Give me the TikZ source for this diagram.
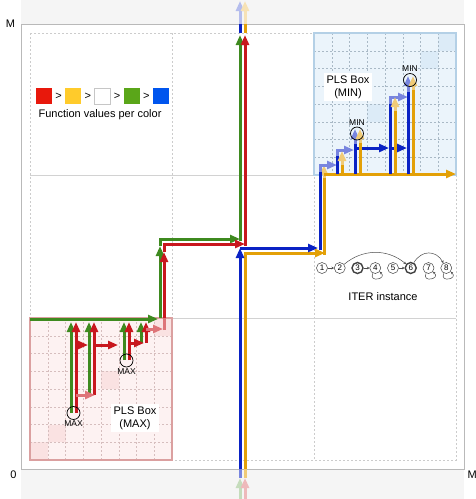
\documentclass[tikz,border=0pt]{standalone}
\usepackage{fontspec}
\setmainfont{Liberation Sans}
\usetikzlibrary{arrows.meta,positioning}

\definecolor{cred}{HTML}{C8171E}
\definecolor{cgreen}{HTML}{3E8A1F}
\definecolor{cblue}{HTML}{0A22C4}
\definecolor{corange}{HTML}{E3A007}
\definecolor{kred}{HTML}{E8180C}
\definecolor{kyellow}{HTML}{FFCB2B}
\definecolor{kgreen}{HTML}{5AA619}
\definecolor{kblue}{HTML}{0055EE}
\definecolor{bandgray}{HTML}{F5F5F5}
\definecolor{maxfill}{HTML}{FDF2F2}
\definecolor{maxcell}{HTML}{FAE2E2}
\definecolor{maxgrid}{HTML}{D6BEBE}
\definecolor{maxedge}{HTML}{DBA0A0}
\definecolor{minfill}{HTML}{EBF4FB}
\definecolor{mincell}{HTML}{DCEBF7}
\definecolor{mingrid}{HTML}{A9B9C6}
\definecolor{minedge}{HTML}{B4D0E6}

\begin{document}
\begin{tikzpicture}[x=1pt, y=1pt,
  flow/.style={line width=3pt, draw=#1, -{Triangle[length=10pt,width=8pt]}},
  seg/.style={line width=3pt, draw=#1},
  lbl/.style={font=\fontsize{11}{13}\selectfont, align=center},
  tiny/.style={font=\fontsize{8.5}{9}\selectfont, inner sep=1pt},
  pick/.style={draw=black, circle, minimum size=13pt, inner sep=0pt, line width=0.7pt},
  inode/.style={circle, draw=black!75, minimum size=11pt, inner sep=0pt,
                font=\fontsize{8}{8}\selectfont},
  iedge/.style={draw=black!70, line width=0.5pt, -{Stealth[length=2.5pt,width=2.5pt]}},
  key/.style={minimum size=16pt, inner sep=0pt},
  cellgrid/.style={dash pattern=on 2pt off 2pt, line width=0.5pt, draw=#1}]

\useasboundingbox (0,0) rectangle (476,-499);

% frame and bands
\fill[bandgray] (21,0) rectangle (464,-24);
\fill[bandgray] (21,-469) rectangle (464,-499);
\draw[gray!55, line width=0.8pt] (21,-24) rectangle (464,-469);
\draw[cellgrid=gray!40] (30,-33) rectangle (456,-460);
\draw[cellgrid=gray!40] (172,-33) -- (172,-460);
\draw[cellgrid=gray!40] (314,-33) -- (314,-460);
\draw[gray!35, line width=1pt] (30,-175) -- (456,-175);
\draw[gray!35, line width=1pt] (30,-318) -- (456,-318);

% PLS box (MAX)
\fill[maxfill] (30,-318) rectangle (172,-460);
\foreach \c/\r in {0/7,1/6,4/3,7/0}
  \fill[maxcell] ({30+17.75*\c},{-318-17.75*\r}) rectangle ++(17.75,-17.75);
\foreach \i in {1,...,7} {
  \draw[cellgrid=maxgrid] ({30+17.75*\i},-318) -- ++(0,-142);
  \draw[cellgrid=maxgrid] (30,{-318-17.75*\i}) -- ++(142,0);
}
\draw[maxedge, line width=1.2pt] (30,-318) rectangle (172,-460);

% PLS box (MIN)
\fill[minfill] (314,-33) rectangle (456,-175);
\foreach \c/\r in {7/0,6/1,3/4}
  \fill[mincell] ({314+17.75*\c},{-33-17.75*\r}) rectangle ++(17.75,-17.75);
\foreach \i in {1,...,7} {
  \draw[cellgrid=mingrid] ({314+17.75*\i},-33) -- ++(0,-142);
  \draw[cellgrid=mingrid] (314,{-33-17.75*\i}) -- ++(142,0);
}
\draw[minedge, line width=1.2pt] (314,-33) rectangle (456,-175);

% legend
\begin{scope}[node distance=3pt]
\node[key, fill=kred] (k1) at (44,-96) {};
\node[lbl, inner sep=0pt, right=of k1] (g1) {>};
\node[key, fill=kyellow, right=of g1] (k2) {};
\node[lbl, inner sep=0pt, right=of k2] (g2) {>};
\node[key, fill=white, draw=gray!45, right=of g2] (k3) {};
\node[lbl, inner sep=0pt, right=of k3] (g3) {>};
\node[key, fill=kgreen, right=of g3] (k4) {};
\node[lbl, inner sep=0pt, right=of k4] (g4) {>};
\node[key, fill=kblue, right=of g4] (k5) {};
\end{scope}
\node[lbl] (keytxt) at (100,-115) {Function values per color};

% steps inside the MAX box
\draw[flow=cgreen] (30,-319) -- (158,-319);
\foreach \x/\y in {71/413,89/395,124/360,141/343}
  \draw[flow=cgreen] (\x,-\y) -- (\x,-322);
\foreach \x/\y in {76/413,94/395,129/360,146/343}
  \draw[flow=cred] (\x,-\y) -- (\x,-322);
\draw[flow=cred!60] (76,-395) -- (95,-395);
\draw[flow=cred] (76,-345) -- (88,-345);
\draw[flow=cred] (94,-345) -- (118,-345);
\draw[flow=cred] (129,-343) -- (144,-343);
\draw[flow=cred!60] (146,-329) -- (163,-329);

% green and red through the middle
\draw[flow=cgreen] (160,-318) -- (160,-246);
\draw[flow=cgreen] (160,-246) |- (240,-239);
\draw[flow=cgreen] (240,-240.5) -- (240,-35);
\draw[seg=cred!60] (164,-330) -- (164,-318);
\draw[flow=cred] (164,-318) -- (164,-252);
\draw[flow=cred] (164,-252) |- (245,-244);
\draw[flow=cred] (245,-245.5) -- (245,-35);

% blue and orange through the middle
\draw[seg=corange!55] (245,-478) -- (245,-469);
\draw[flow=corange] (245,-469) |- (325,-253);
\draw[seg=corange] (324,-254.5) -- (324,-176);
\draw[flow=corange!55] (324,-178) -- (324,-165);
\draw[seg=cblue!55] (240,-478) -- (240,-469);
\draw[flow=cblue] (240,-469) -- (240,-248);
\draw[flow=cblue] (240,-248) -- (318,-248);
\draw[seg=cblue] (320,-249.5) -- (320,-172);

% steps inside the MIN box
\draw[flow=corange] (324,-174) -- (456,-174);
\draw[flow=cblue!55] (320,-172) |- (337,-165);
\draw[seg=cblue] (337,-174) -- (337,-156);
\draw[flow=cblue!55] (337,-156) |- (354,-150);
\draw[flow=cblue] (355,-148) -- (389,-148);
\draw[flow=cblue] (390,-148) -- (407,-148);
\draw[seg=cblue] (355,-174) -- (355,-142);
\draw[flow=cblue!55] (355,-144) -- (355,-129);
\draw[seg=cblue] (390,-174) -- (390,-104);
\draw[flow=cblue!55] (390,-104) |- (408,-97);
\draw[seg=cblue] (408,-174) -- (408,-90);
\draw[flow=cblue!55] (408,-92) -- (408,-76);
\foreach \x/\y in {342/151,360/129,395/97,413/76} {
  \draw[seg=corange] (\x,-174) -- (\x,{-\y-12});
  \draw[flow=corange!55] (\x,{-\y-14}) -- (\x,-\y);
}

% leaving at the top, coming in at the bottom
\draw[seg=cblue] (240,-33) -- (240,-24);
\draw[flow=cblue!30] (240,-24) -- (240,-1);
\draw[seg=corange] (245,-33) -- (245,-24);
\draw[flow=corange!30] (245,-24) -- (245,-1);
\draw[flow=cgreen!30] (240,-499) -- (240,-478);
\draw[flow=cred!30] (245,-499) -- (245,-478);

% optima
\node[pick] (max1) at (73.5,-413) {};
\node[tiny, below=0pt of max1] {MAX};
\node[pick] (max2) at (126.5,-360.5) {};
\node[tiny, below=0pt of max2] {MAX};
\node[pick] (min1) at (357,-133.5) {};
\node[tiny, above=0pt of min1] {MIN};
\node[pick] (min2) at (410,-80) {};
\node[tiny, above=0pt of min2] {MIN};

\node[lbl, fill=white, inner sep=2.5pt] (maxlbl) at (135,-418) {PLS Box\\(MAX)};
\node[lbl, fill=white, inner sep=2.5pt] (minlbl) at (348,-87) {PLS Box\\(MIN)};

% ITER instance
\foreach \i/\w in {1/0.5,2/0.5,3/1.4,4/0.5,5/0.5,6/1.4,7/0.5,8/0.5}
  \node[inode, line width=\w pt] (n\i) at ({322+17.75*(\i-1)},-268) {\i};
\draw[iedge] (n1) -- (n2);
\draw[iedge] (n3) -- (n4);
\draw[iedge] (n5) -- (n6);
\draw[iedge] (n2) to[bend left=40] (n6);
\draw[iedge] (n6) to[bend left=60, looseness=1.3] (n8);
\foreach \i in {4,7,8}
  \draw[iedge] (n\i) to[out=-115, in=-40, min distance=11pt] (n\i);
\node[lbl] (itertxt) at (383,-297) {ITER instance};

% axis marks
\node[lbl] (ytop) at (10.5,-23.5) {M};
\node[lbl] (orig) at (13.5,-475) {0};
\node[lbl] (xend) at (472.3,-475) {M};
\end{tikzpicture}
\end{document}
